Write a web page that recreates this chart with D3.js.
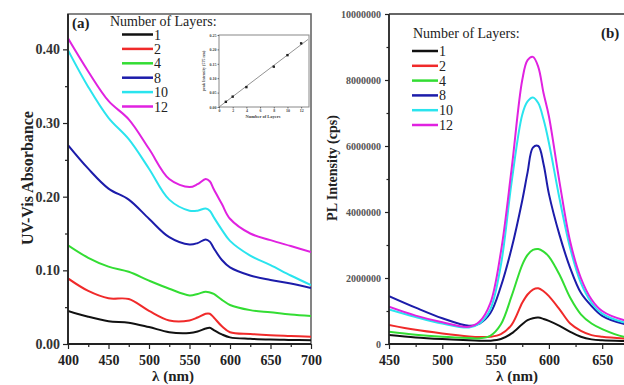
<!DOCTYPE html>
<html><head><meta charset="utf-8">
<script src="https://cdn.jsdelivr.net/npm/d3@7"></script>
<style>body{margin:0;background:#fff}</style>
</head><body><svg id="c" width="624" height="385"></svg>
<script>
// ---------- DATA ----------
const layerLabels = ["1", "2", "4", "8", "10", "12"];
const lineColors = ["#111111", "#f02a2a", "#33dd33", "#1c1caa", "#2ae4ee", "#e022e0"];

// Panel (a): UV-Vis absorbance
const wavelengthA = [400, 425, 450, 475, 500, 525, 550, 560, 570, 575, 580, 590, 600, 625, 650, 675, 700];
const abs1  = [0.045, 0.037, 0.031, 0.029, 0.023, 0.016, 0.015, 0.017, 0.021, 0.022, 0.019, 0.013, 0.009, 0.007, 0.006, 0.0055, 0.005];
const abs2  = [0.089, 0.072, 0.062, 0.061, 0.045, 0.032, 0.032, 0.036, 0.041, 0.041, 0.036, 0.024, 0.016, 0.0136, 0.012, 0.011, 0.010];
const abs4  = [0.134, 0.117, 0.105, 0.098, 0.086, 0.075, 0.066, 0.068, 0.071, 0.070, 0.068, 0.060, 0.053, 0.046, 0.043, 0.040, 0.038];
const abs8  = [0.270, 0.238, 0.211, 0.196, 0.170, 0.145, 0.135, 0.137, 0.142, 0.139, 0.130, 0.114, 0.104, 0.093, 0.087, 0.082, 0.076];
const abs10 = [0.399, 0.349, 0.307, 0.278, 0.238, 0.196, 0.181, 0.181, 0.184, 0.181, 0.172, 0.155, 0.140, 0.120, 0.107, 0.093, 0.080];
const abs12 = [0.415, 0.370, 0.330, 0.305, 0.265, 0.224, 0.213, 0.217, 0.224, 0.221, 0.210, 0.190, 0.170, 0.150, 0.141, 0.133, 0.125];
const absorbanceSeries = [abs1, abs2, abs4, abs8, abs10, abs12];
const xTicksA = [400, 450, 500, 550, 600, 650, 700];
const xMinorA = [425, 475, 525, 575, 625, 675];
const yTicksA = [0, 0.10, 0.20, 0.30, 0.40];
const yMinorA = [0.05, 0.15, 0.25, 0.35];

// Inset: peak absorbance at 575 nm vs layers
const insetLayers = [1, 2, 4, 8, 10, 12];
const insetPeak = [0.018, 0.036, 0.069, 0.140, 0.180, 0.221];
const insetXTicks = [0, 2, 4, 6, 8, 10, 12];
const insetYTicks = [0, 0.05, 0.10, 0.15, 0.20, 0.25];

// Panel (b): PL intensity
const wavelengthB = [450, 475, 500, 525, 535, 545, 555, 565, 575, 580, 585, 590, 595, 600, 610, 620, 630, 640, 650, 670, 700];
const pl1  = [270000, 200000, 150000, 110000, 100000, 100000, 150000, 320000, 600000, 720000, 780000, 800000, 760000, 700000, 550000, 370000, 220000, 140000, 110000, 90000, 80000];
const pl2  = [580000, 430000, 320000, 230000, 210000, 220000, 300000, 580000, 1250000, 1500000, 1650000, 1690000, 1600000, 1450000, 1050000, 620000, 400000, 270000, 220000, 170000, 130000];
const pl4  = [370000, 280000, 220000, 180000, 170000, 250000, 600000, 1450000, 2400000, 2700000, 2850000, 2880000, 2800000, 2650000, 2100000, 1400000, 900000, 620000, 450000, 220000, 150000];
const pl8  = [1450000, 1100000, 780000, 550000, 620000, 930000, 1750000, 2900000, 4350000, 5200000, 5950000, 6000000, 5450000, 4550000, 3300000, 2300000, 1550000, 1150000, 850000, 610000, 500000];
const pl10 = [1050000, 820000, 620000, 500000, 620000, 1050000, 2400000, 4900000, 6950000, 7350000, 7470000, 7300000, 6800000, 6100000, 4400000, 2900000, 1850000, 1250000, 920000, 660000, 550000];
const pl12 = [1130000, 860000, 660000, 520000, 680000, 1230000, 2800000, 5300000, 8000000, 8600000, 8700000, 8400000, 7600000, 6900000, 4900000, 3100000, 2000000, 1350000, 1000000, 730000, 600000];
const plSeries = [pl1, pl2, pl4, pl8, pl10, pl12];
const xTicksB = [450, 500, 550, 600, 650];
const xMinorB = [475, 525, 575, 625];
const yTicksB = [0, 2000000, 4000000, 6000000, 8000000, 10000000];
const yMinorB = [1000000, 3000000, 5000000, 7000000, 9000000];

// ---------- DRAW ----------
const svg = d3.select("#c");
const serif = "'Liberation Serif','Times New Roman',serif";
const defs = svg.append("defs");

function styleAxis(g, size, color, weight) {
  g.select(".domain").remove();
  g.selectAll(".tick line").attr("stroke", "#222").attr("stroke-width", 1.2);
  g.selectAll(".tick text").attr("font-family", serif).attr("font-size", size)
    .attr("font-weight", weight).attr("fill", color);
}

// ===== Panel A =====
const xA = d3.scaleLinear().domain([400, 700]).range([68, 311]);
const yA = d3.scaleLinear().domain([0, 0.448]).range([344, 14]);
defs.append("clipPath").attr("id", "clipA").append("rect")
  .attr("x", 68).attr("y", 14).attr("width", 243).attr("height", 330);

svg.append("rect").attr("x", 68).attr("y", 14).attr("width", 243).attr("height", 330)
  .attr("fill", "none").attr("stroke", "#666").attr("stroke-width", 1.6);

const lineA = d3.line().x((d, i) => xA(wavelengthA[i])).y(d => yA(d)).curve(d3.curveCatmullRom.alpha(0.5));
const gA = svg.append("g").attr("clip-path", "url(#clipA)");
absorbanceSeries.forEach((s, i) => {
  gA.append("path").attr("d", lineA(s)).attr("fill", "none")
    .attr("stroke", lineColors[i]).attr("stroke-width", 2);
});

svg.append("g").attr("transform", "translate(0,344)")
  .call(d3.axisBottom(xA).tickValues(xTicksA).tickSize(5).tickPadding(6).tickFormat(d3.format("d")))
  .call(g => styleAxis(g, 14, "#222", "bold"));
svg.append("g").attr("transform", "translate(0,344)")
  .call(d3.axisBottom(xA).tickValues(xMinorA).tickSize(3).tickFormat(""))
  .call(g => styleAxis(g, 14, "#222", "bold"));
svg.append("g").attr("transform", "translate(68,0)")
  .call(d3.axisLeft(yA).tickValues(yTicksA).tickSize(5).tickPadding(3).tickFormat(d3.format(".2f")))
  .call(g => styleAxis(g, 14, "#333", "bold"));
svg.append("g").attr("transform", "translate(68,0)")
  .call(d3.axisLeft(yA).tickValues(yMinorA).tickSize(3).tickFormat(""))
  .call(g => styleAxis(g, 14, "#222", "bold"));
svg.append("line").attr("x1", 68).attr("x2", 68).attr("y1", 14).attr("y2", 344).attr("stroke", "#222").attr("stroke-width", 1.8);
svg.append("line").attr("x1", 68).attr("x2", 311).attr("y1", 344).attr("y2", 344).attr("stroke", "#222").attr("stroke-width", 1.8);

svg.append("text").attr("transform", "translate(33,178) rotate(-90)").attr("text-anchor", "middle")
  .attr("font-family", serif).attr("font-weight", "bold").attr("font-size", 16).attr("fill", "#222")
  .text("UV-Vis Absorbance");
svg.append("text").attr("x", 173).attr("y", 381).attr("text-anchor", "middle")
  .attr("font-family", serif).attr("font-weight", "bold").attr("font-size", 15).attr("fill", "#222")
  .text("λ (nm)");
svg.append("text").attr("x", 72).attr("y", 28).attr("font-family", serif).attr("font-weight", "bold")
  .attr("font-size", 15).attr("fill", "#222").text("(a)");

// Legend A
svg.append("text").attr("x", 110).attr("y", 26).attr("font-family", serif).attr("font-size", 14)
  .attr("fill", "#222").text("Number of Layers:");
layerLabels.forEach((l, i) => {
  const yy = 34.5 + i * 14.4;
  svg.append("line").attr("x1", 122).attr("x2", 153).attr("y1", yy).attr("y2", yy)
    .attr("stroke", lineColors[i]).attr("stroke-width", 2.5);
  svg.append("text").attr("x", 154).attr("y", yy + 5).attr("font-family", serif).attr("font-size", 14)
    .attr("fill", "#222").text(l);
});

// Inset
const xI = d3.scaleLinear().domain([0, 13]).range([219, 308]);
const yI = d3.scaleLinear().domain([0, 0.25]).range([107, 35]);
svg.append("rect").attr("x", 219).attr("y", 35).attr("width", 90).attr("height", 72)
  .attr("fill", "#fff").attr("stroke", "#888").attr("stroke-width", 1);
const sxy = d3.sum(insetLayers, (x, i) => x * insetPeak[i]);
const sxx = d3.sum(insetLayers, x => x * x);
const slope = sxy / sxx;
svg.append("line").attr("x1", xI(0)).attr("y1", yI(0)).attr("x2", xI(13)).attr("y2", yI(13 * slope))
  .attr("stroke", "#777").attr("stroke-width", 0.8);
svg.append("g").selectAll("rect").data(insetLayers).join("rect")
  .attr("x", d => xI(d) - 1.2).attr("y", (d, i) => yI(insetPeak[i]) - 1.2)
  .attr("width", 2.4).attr("height", 2.4).attr("fill", "#222");
svg.append("g").attr("transform", "translate(0,107)")
  .call(d3.axisBottom(xI).tickValues(insetXTicks).tickSize(1.5).tickPadding(1).tickFormat(d3.format("d")))
  .call(g => styleAxis(g, 4, "#444", "bold"))
  .call(g => g.selectAll(".tick line").attr("stroke-width", 0.6));
svg.append("g").attr("transform", "translate(219,0)")
  .call(d3.axisLeft(yI).tickValues(insetYTicks).tickSize(1.5).tickPadding(1).tickFormat(d3.format(".2f")))
  .call(g => styleAxis(g, 4, "#444", "bold"))
  .call(g => g.selectAll(".tick line").attr("stroke-width", 0.6));
svg.append("text").attr("x", 263).attr("y", 118).attr("text-anchor", "middle")
  .attr("font-family", serif).attr("font-weight", "bold").attr("font-size", 4.5).attr("fill", "#444")
  .text("Number of Layers");
svg.append("text").attr("transform", "translate(205,71) rotate(-90)").attr("text-anchor", "middle")
  .attr("font-family", serif).attr("font-weight", "bold").attr("font-size", 4).attr("fill", "#444")
  .text("peak Intensity (575 nm)");

// ===== Panel B =====
const xB = d3.scaleLinear().domain([450, 700]).range([389, 655.5]);
const yB = d3.scaleLinear().domain([0, 10000000]).range([344, 14]);
defs.append("clipPath").attr("id", "clipB").append("rect")
  .attr("x", 389).attr("y", 14).attr("width", 266.5).attr("height", 330);

const lineB = d3.line().x((d, i) => xB(wavelengthB[i])).y(d => yB(d)).curve(d3.curveCatmullRom.alpha(0.5));
const gB = svg.append("g").attr("clip-path", "url(#clipB)");
plSeries.forEach((s, i) => {
  gB.append("path").attr("d", lineB(s)).attr("fill", "none")
    .attr("stroke", lineColors[i]).attr("stroke-width", 2);
});

svg.append("g").attr("transform", "translate(0,344)")
  .call(d3.axisBottom(xB).tickValues(xTicksB).tickSize(5).tickPadding(6).tickFormat(d3.format("d")))
  .call(g => styleAxis(g, 14, "#222", "bold"));
svg.append("g").attr("transform", "translate(0,344)")
  .call(d3.axisBottom(xB).tickValues(xMinorB).tickSize(3).tickFormat(""))
  .call(g => styleAxis(g, 14, "#222", "bold"));
svg.append("g").attr("transform", "translate(389,0)")
  .call(d3.axisLeft(yB).tickValues(yTicksB).tickSize(4).tickPadding(4).tickFormat(d3.format("d")))
  .call(g => styleAxis(g, 10, "#555", "bold"));
svg.append("g").attr("transform", "translate(389,0)")
  .call(d3.axisLeft(yB).tickValues(yMinorB).tickSize(2.5).tickFormat(""))
  .call(g => styleAxis(g, 10, "#222", "bold"));
svg.append("line").attr("x1", 389).attr("x2", 389).attr("y1", 14).attr("y2", 344).attr("stroke", "#222").attr("stroke-width", 1.8);
svg.append("line").attr("x1", 389).attr("x2", 656).attr("y1", 344).attr("y2", 344).attr("stroke", "#222").attr("stroke-width", 1.8);
svg.append("line").attr("x1", 389).attr("x2", 656).attr("y1", 14).attr("y2", 14).attr("stroke", "#333").attr("stroke-width", 1.6);

svg.append("text").attr("transform", "translate(337,168) rotate(-90)").attr("text-anchor", "middle")
  .attr("font-family", serif).attr("font-weight", "bold").attr("font-size", 14).attr("fill", "#222")
  .text("PL Intensity (cps)");
svg.append("text").attr("x", 517).attr("y", 381).attr("text-anchor", "middle")
  .attr("font-family", serif).attr("font-weight", "bold").attr("font-size", 15).attr("fill", "#222")
  .text("λ (nm)");
svg.append("text").attr("x", 601).attr("y", 38).attr("font-family", serif).attr("font-weight", "bold")
  .attr("font-size", 15).attr("fill", "#222").text("(b)");

svg.append("text").attr("x", 413).attr("y", 38).attr("font-family", serif).attr("font-size", 14)
  .attr("fill", "#222").text("Number of Layers:");
layerLabels.forEach((l, i) => {
  const yy = 51 + i * 14.8;
  svg.append("line").attr("x1", 412).attr("x2", 438).attr("y1", yy).attr("y2", yy)
    .attr("stroke", lineColors[i]).attr("stroke-width", 2.5);
  svg.append("text").attr("x", 439).attr("y", yy + 5).attr("font-family", serif).attr("font-size", 14)
    .attr("fill", "#222").text(l);
});
</script>
</body></html>
